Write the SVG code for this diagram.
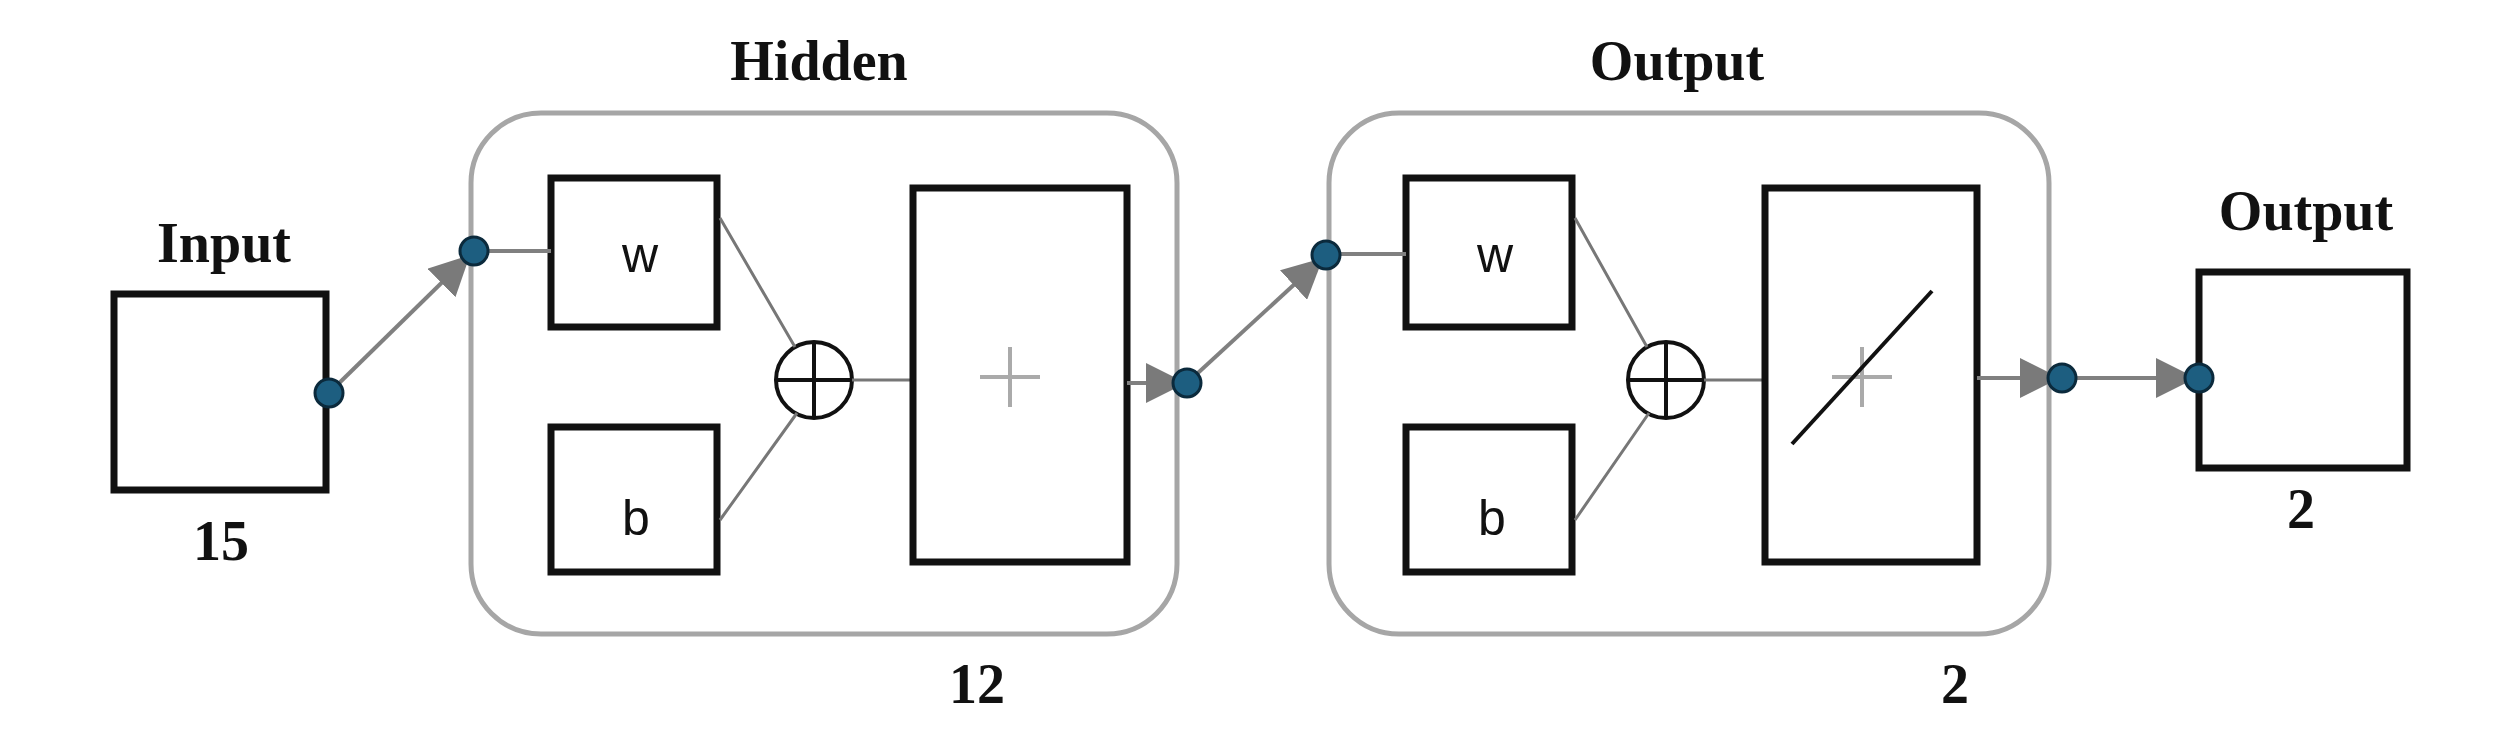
<svg xmlns="http://www.w3.org/2000/svg" width="2504" height="731" viewBox="0 0 2504 731">
<style>
.t{font-family:"Liberation Serif",serif;font-weight:bold;font-size:56px;text-anchor:middle;fill:#111}
.s{font-family:"Liberation Sans",sans-serif;font-size:50px;text-anchor:middle;fill:#111}
.bx{fill:#fff;stroke:#111;stroke-width:7}
.ct{fill:none;stroke:#a6a6a6;stroke-width:5}
.ln{stroke:#777;stroke-width:3;fill:none}
.cn{stroke:#808080;stroke-width:4;fill:none}
.dot{fill:#1d5e80;stroke:#0b2a3c;stroke-width:3}
</style>
<defs>
<marker id="a" markerWidth="10" markerHeight="10" refX="9" refY="5" orient="auto" markerUnits="userSpaceOnUse" viewBox="0 0 10 10"><path d="M0,0 L10,5 L0,10 z" fill="#7a7a7a"/></marker>
<marker id="ah" viewBox="0 0 10 10" refX="10" refY="5" markerWidth="40" markerHeight="40" markerUnits="userSpaceOnUse" orient="auto"><path d="M0,0 L10,5 L0,10 z" fill="#7a7a7a"/></marker>
</defs>
<g id="input"><text class="t" x="224" y="262">Input</text><rect class="bx" x="114" y="294" width="212" height="196"/><text class="t" x="221" y="560">15</text></g>
<g id="hidden">
<text class="t" x="819" y="80">Hidden</text>
<rect class="ct" x="471" y="113" width="706" height="521" rx="70"/>
<rect class="bx" x="551" y="178" width="166" height="149"/><text class="s" x="640" y="272">w</text>
<rect class="bx" x="551" y="427" width="166" height="145"/><text class="s" x="636" y="535">b</text>
<circle cx="814" cy="380" r="38" fill="#fff" stroke="#111" stroke-width="4"/>
<path d="M776,380 H852 M814,342 V418" stroke="#111" stroke-width="4"/>
<path class="ln" d="M720,218 L795,347 M720,520 L797,413 M852,380 H912"/>
<rect class="bx" x="913" y="188" width="214" height="374"/>
<path d="M980,377 H1040 M1010,347 V407" stroke="#aaa" stroke-width="4"/>
<text class="t" x="977" y="703">12</text>
</g>
<g id="output-layer">
<text class="t" x="1677" y="80">Output</text>
<rect class="ct" x="1329" y="113" width="720" height="521" rx="70"/>
<rect class="bx" x="1406" y="178" width="166" height="149"/><text class="s" x="1495" y="272">w</text>
<rect class="bx" x="1406" y="427" width="166" height="145"/><text class="s" x="1492" y="535">b</text>
<circle cx="1666" cy="380" r="38" fill="#fff" stroke="#111" stroke-width="4"/>
<path d="M1628,380 H1704 M1666,342 V418" stroke="#111" stroke-width="4"/>
<path class="ln" d="M1575,218 L1647,347 M1575,520 L1649,413 M1704,380 H1764"/>
<rect class="bx" x="1765" y="188" width="212" height="374"/>
<path d="M1832,377 H1892 M1862,347 V407" stroke="#aaa" stroke-width="4"/>
<path d="M1792,444 L1932,291" stroke="#111" stroke-width="4"/>
<text class="t" x="1955" y="703">2</text>
</g>
<g id="output"><text class="t" x="2306" y="230">Output</text><rect class="bx" x="2199" y="272" width="208" height="196"/><text class="t" x="2301" y="528">2</text></g>
<g id="connectors">
<path class="cn" d="M329,393 L470,255" marker-end="url(#ah)"/>
<path class="cn" d="M474,251 H551"/>
<path class="cn" d="M1127,383 H1186" marker-end="url(#ah)"/>
<path class="cn" d="M1187,383 L1323,258" marker-end="url(#ah)"/>
<path class="cn" d="M1324,254 H1406"/>
<path class="cn" d="M1977,378 H2060" marker-end="url(#ah)"/>
<path class="cn" d="M2062,378 H2196" marker-end="url(#ah)"/>
<circle class="dot" cx="329" cy="393" r="14"/>
<circle class="dot" cx="474" cy="251" r="14"/>
<circle class="dot" cx="1187" cy="383" r="14"/>
<circle class="dot" cx="1326" cy="255" r="14"/>
<circle class="dot" cx="2062" cy="378" r="14"/>
<circle class="dot" cx="2199" cy="378" r="14"/>
</g>
</svg>
